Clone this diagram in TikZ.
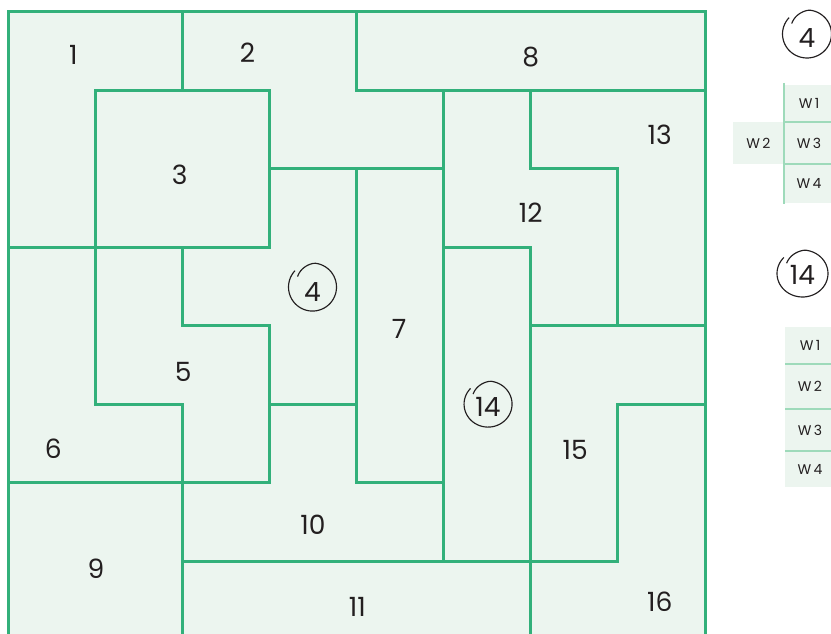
\documentclass[tikz,border=0pt]{standalone}
\usepackage{fontspec}
\setmainfont{Poppins}
\usetikzlibrary{positioning}
\definecolor{tilegreen}{RGB}{50,176,122}
\definecolor{tilefill}{RGB}{236,245,239}
\definecolor{wline}{RGB}{158,218,186}
\definecolor{inkgray}{RGB}{35,31,32}

% pen ring round a number: node, lift, x radius, y radius
\newcommand{\handring}[4]{%
  \draw[ring, shift={(#1.center)}, yshift=#2] plot[smooth, domain=0:368, samples=60]
    ({#3pt*(0.76+0.24*min(1,\x/60))*cos(145-\x)}, {#4pt*(0.76+0.24*min(1,\x/60))*sin(145-\x)});}

\begin{document}
\begin{tikzpicture}[x=1pt, y=-1pt,
    tile/.style={draw=tilegreen, line width=3pt},
    num/.style={font=\fontsize{26.5}{30}\selectfont, text=inkgray, inner sep=0pt},
    wcell/.style={fill=tilefill, minimum width=50pt, inner sep=0pt, outer sep=0pt,
                  font=\fontsize{14}{16}\selectfont, text=inkgray},
    wsep/.style={draw=wline, line width=1.8pt},
    ring/.style={draw=inkgray, line width=1.15pt}]
  \clip (0,0) rectangle (831,634);
  \fill[white] (0,0) rectangle (831,634);

  % board, 8 x 8 cells
  \begin{scope}[shift={(8,12)}, x=87.125pt, y=-78.45pt]
    \fill[tilefill] (0,0) rectangle (8,8);
    \draw[tile] (0,0) -- (2,0) -- (2,1) -- (1,1) -- (1,3) -- (0,3) -- cycle;
    \draw[tile] (2,0) -- (4,0) -- (4,1) -- (5,1) -- (5,2) -- (3,2) -- (3,1) -- (2,1) -- cycle;
    \draw[tile] (1,1) -- (3,1) -- (3,3) -- (1,3) -- cycle;
    \draw[tile] (3,2) -- (4,2) -- (4,5) -- (3,5) -- (3,4) -- (2,4) -- (2,3) -- (3,3) -- cycle;
    \draw[tile] (1,3) -- (2,3) -- (2,4) -- (3,4) -- (3,6) -- (2,6) -- (2,5) -- (1,5) -- cycle;
    \draw[tile] (0,3) -- (1,3) -- (1,5) -- (2,5) -- (2,6) -- (0,6) -- cycle;
    \draw[tile] (4,2) -- (5,2) -- (5,6) -- (4,6) -- cycle;
    \draw[tile] (4,0) -- (8,0) -- (8,1) -- (4,1) -- cycle;
    \draw[tile] (0,6) -- (2,6) -- (2,8) -- (0,8) -- cycle;
    \draw[tile] (3,5) -- (4,5) -- (4,6) -- (5,6) -- (5,7) -- (2,7) -- (2,6) -- (3,6) -- cycle;
    \draw[tile] (2,7) -- (6,7) -- (6,8) -- (2,8) -- cycle;
    \draw[tile] (5,1) -- (6,1) -- (6,2) -- (7,2) -- (7,4) -- (6,4) -- (6,3) -- (5,3) -- cycle;
    \draw[tile] (6,1) -- (8,1) -- (8,4) -- (7,4) -- (7,2) -- (6,2) -- cycle;
    \draw[tile] (5,3) -- (6,3) -- (6,7) -- (5,7) -- cycle;
    \draw[tile] (6,4) -- (8,4) -- (8,5) -- (7,5) -- (7,7) -- (6,7) -- cycle;
    \draw[tile] (7,5) -- (8,5) -- (8,8) -- (6,8) -- (6,7) -- (7,7) -- cycle;

    \node[num] (n1)  at (0.75,0.55) {1};
    \node[num] (n2)  at (2.75,0.52) {2};
    \node[num] (n8)  at (6.00,0.57) {8};
    \node[num] (n13) at (7.48,1.57) {13};
    \node[num] (n3)  at (1.97,2.07) {3};
    \node[num] (n12) at (6.00,2.56) {12};
    \node[num] (n4)  at (3.495,3.57) {4};
    \node[num] (n7)  at (4.49,4.04) {7};
    \node[num] (n5)  at (2.01,4.59) {5};
    \node[num] (n14) at (5.51,5.03) {14};
    \node[num] (n6)  at (0.52,5.57) {6};
    \node[num] (n15) at (6.51,5.58) {15};
    \node[num] (n10) at (3.50,6.54) {10};
    \node[num] (n9)  at (1.01,7.10) {9};
    \node[num] (n11) at (4.01,7.58) {11};
    \node[num] (n16) at (7.48,7.52) {16};
  \end{scope}
  \handring{n4}{5pt}{24}{24}
  \handring{n14}{2.5pt}{24}{23}

  % key for piece 4
  \node[num] (k4) at (807,38.5) {4};
  \handring{k4}{4.5pt}{24.5}{24}
  \node[wcell, minimum height=37pt] (a1) at (809,103.5) {W\,1};
  \node[wcell, minimum height=42pt, below=0pt of a1] (a3) {W\,3};
  \node[wcell, minimum height=39pt, below=0pt of a3] (a4) {W\,4};
  \node[wcell, minimum height=41pt, minimum width=51pt, left=0pt of a3] (a2) {W\,2};
  \draw[wsep] ([yshift=2pt]a1.north west) -- ([yshift=-1pt]a4.south west);
  \draw[wsep] (a1.south west) -- (a1.south east);
  \draw[wsep] (a3.south west) -- (a3.south east);

  % key for piece 14
  \node[num] (k14) at (802.5,274.5) {14};
  \handring{k14}{1pt}{25.5}{23.5}
  \node[wcell, minimum height=37pt] (b1) at (810,345.5) {W\,1};
  \node[wcell, minimum height=45pt, below=0pt of b1] (b2) {W\,2};
  \node[wcell, minimum height=42pt, below=0pt of b2] (b3) {W\,3};
  \node[wcell, minimum height=36pt, below=0pt of b3] (b4) {W\,4};
  \draw[wsep] (b1.south west) -- (b1.south east);
  \draw[wsep] (b2.south west) -- (b2.south east);
  \draw[wsep] (b3.south west) -- (b3.south east);
\end{tikzpicture}
\end{document}
